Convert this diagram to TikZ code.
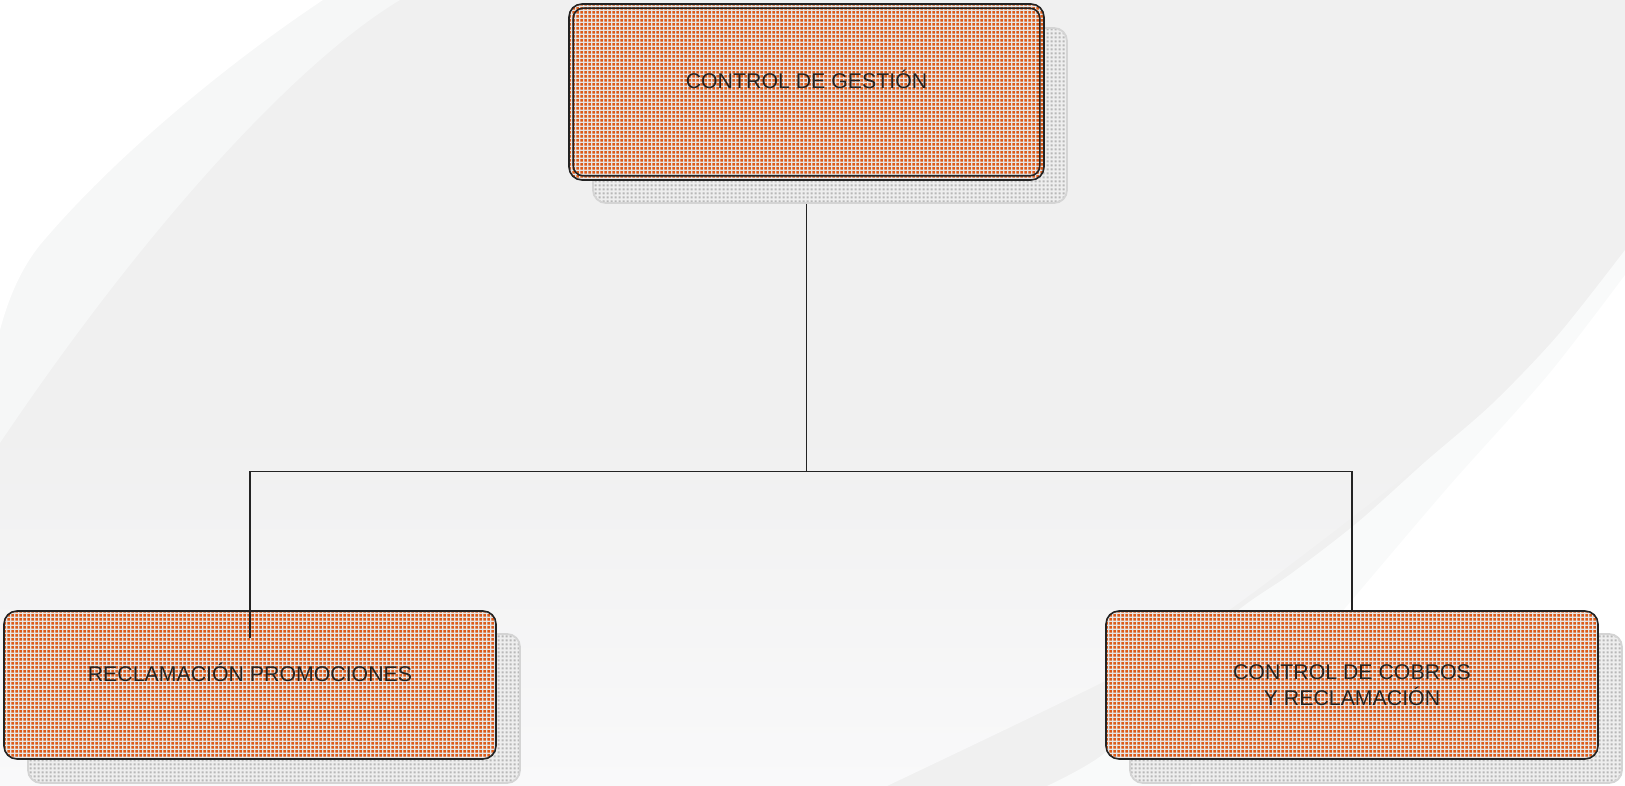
\documentclass[tikz,border=0pt]{standalone}
\usepackage{fontspec}
\setmainfont{Liberation Sans}
\usetikzlibrary{patterns.meta}
\definecolor{bgbase}{HTML}{F0F0F0}
\definecolor{bglight}{HTML}{F9F9FA}
\definecolor{bandcol}{HTML}{F6F7F7}
\definecolor{bandr}{HTML}{F9FAFA}
\definecolor{boxbg}{HTML}{E6E6E6}
\definecolor{dotor}{HTML}{DC5A18}
\definecolor{shbg}{HTML}{EEEEEE}
\definecolor{shdot}{HTML}{B8B8B8}
\definecolor{shline}{HTML}{D4D4D4}
\definecolor{ink}{HTML}{232323}
\tikzdeclarepattern{
  name=odots,
  type=uncolored,
  bounding box={(0pt,0pt) and (3.6pt,3.6pt)},
  tile size={(3.6pt,3.6pt)},
  code={\fill (0.5pt,0.5pt) rectangle (3.1pt,3.1pt);}
}
\tikzdeclarepattern{
  name=gdots,
  type=uncolored,
  bounding box={(0pt,0pt) and (3.6pt,3.6pt)},
  tile size={(3.6pt,3.6pt)},
  code={\fill (0.6pt,0.6pt) rectangle (2.8pt,2.8pt);}
}
\begin{document}
\begin{tikzpicture}[x=1pt,y=-1pt,
  orgbox/.style={rectangle, rounded corners=13pt, preaction={fill=boxbg},
    pattern=odots, pattern color=dotor, draw=ink, line width=1.6pt,
    align=center, font=\fontsize{21.3}{26}\selectfont, text=ink, inner sep=0pt},
  shbox/.style={rectangle, rounded corners=13pt, preaction={fill=shbg},
    pattern=gdots, pattern color=shdot, draw=shline, line width=1.8pt, inner sep=0pt},
  conn/.style={draw=ink, line width=1.3pt}]
\useasboundingbox (0,0) rectangle (1625,786);
% background
\fill[bgbase] (0,0) rectangle (1625,786);
\shade[top color=bgbase, bottom color=bglight]
  (0,430) -- (1420,430) -- (1420,465)
  -- plot[smooth] coordinates {(1420,465) (1225,613) (1107,680) (887,786)}
  -- (0,786) -- cycle;
\fill[bandcol] (0,0) -- (400,0) .. controls (300,60) and (150,220) .. (0,443) -- cycle;
\fill[white] (0,0) -- (323,0) .. controls (240,55) and (120,150) .. (40,245)
  .. controls (20,270) and (8,300) .. (0,330) -- cycle;
\fill[bandr] plot[smooth] coordinates {(1625,250) (1558,335) (1492,404) (1425,462) (1358,522) (1292,573) (1235,613) (1170,680) (1106,752) (1047,786)}
  -- (1625,786) -- cycle;
\fill[white] plot[smooth] coordinates {(1625,275) (1548,375) (1450,485) (1352,600) (1250,720) (1190,786)}
  -- (1625,786) -- cycle;
% shadows
\node[shbox, minimum width=474pt, minimum height=175pt] (ctrlsh) at (830,115.5) {};
\node[shbox, minimum width=492pt, minimum height=149pt] (reclsh) at (274,708.5) {};
\node[shbox, minimum width=492pt, minimum height=149pt] (cobrsh) at (1376,708.5) {};
% boxes
\node[orgbox, minimum width=475pt, minimum height=176pt] (ctrl) at (806.5,92)
  {CONTROL DE GESTIÓN\\\mbox{}};
\draw[ink, line width=1.6pt, rounded corners=10pt]
  ([shift={(5,5)}]ctrl.north west) rectangle ([shift={(-5,-5)}]ctrl.south east);
\node[orgbox, minimum width=492pt, minimum height=148pt] (recl) at (250,685)
  {RECLAMACIÓN PROMOCIONES\\\mbox{}};
\node[orgbox, minimum width=492pt, minimum height=148pt] (cobr) at (1352,685)
  {CONTROL DE COBROS\\Y RECLAMACIÓN};
% connectors
\coordinate (junc) at (806.5,471.5);
\coordinate (reclend) at (250,638);
\draw[conn] (ctrl.south |- ctrlsh.south) -- (junc);
\draw[conn] (junc) -| (reclend);
\draw[conn] (junc) -| (cobr.north);
\end{tikzpicture}
\end{document}
